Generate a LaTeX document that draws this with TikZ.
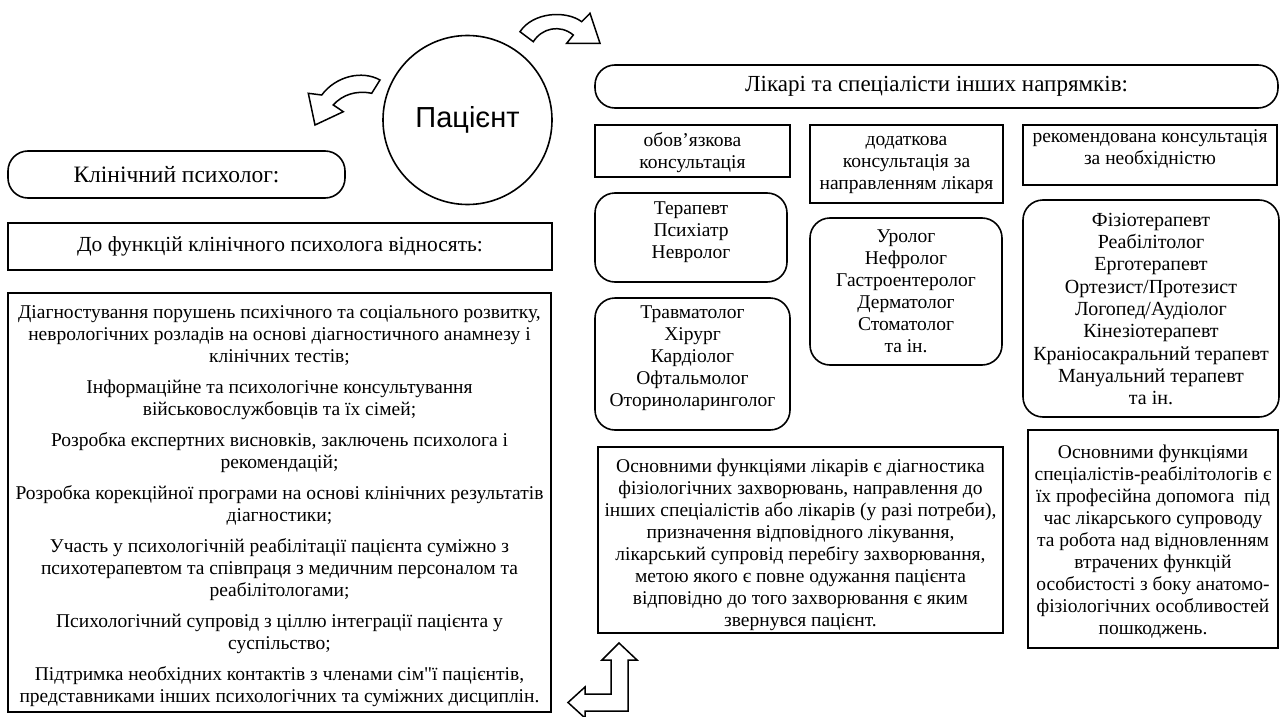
\documentclass[tikz,border=0pt]{standalone}
\usepackage{fontspec}
\setmainfont{Liberation Serif}
\newfontfamily\patsans{Liberation Sans}
\newfontfamily\qfont{Liberation Serif}
\begin{document}
\begin{tikzpicture}[x=1pt,y=-1pt,
  sqbox/.style={draw, line width=1.6pt, inner sep=0pt},
  rbox/.style={draw, line width=1.6pt, rounded corners=20pt, inner sep=0pt},
  body/.style={align=center, inner sep=0pt, font=\fontsize{19.5}{22}\selectfont},
  head/.style={align=center, inner sep=0pt, font=\fontsize{21.5}{24}\selectfont},
  bighead/.style={align=center, inner sep=0pt, font=\fontsize{23}{26}\selectfont},
  blockarrow/.style={draw, fill=white, line width=1.5pt, line join=miter}]
\fill[white] (0,0) rectangle (1282,717);
\useasboundingbox (0,0) rectangle (1282,717);

% patient
\node[circle, draw, line width=1.6pt, minimum size=169pt, inner sep=0pt,
      font=\patsans\fontsize{29}{32}\selectfont] (pat) at (467.5,120) {Пацієнт};

% left column
\node[rbox, minimum width=337pt, minimum height=47pt] (kp) at (176.5,174.5) {};
\node[bighead, font=\fontsize{23.5}{26}\selectfont] (kpT) at (kp.center) {Клінічний психолог:};
\node[sqbox, minimum width=544pt, minimum height=47pt] (fn) at (280,246.5) {};
\node[head] (fnT) at (fn.center) {До функцій клінічного психолога відносять:};
\node[sqbox, minimum width=543pt, minimum height=419pt] (cl) at (279.5,502.5) {};
\node[body] (clT) at ([yshift=-4pt]cl.center) {Діагностування порушень психічного та соціального розвитку,\\
неврологічних розладів на основі діагностичного анамнезу і\\
клінічних тестів;\\[9pt]
Інформаційне та психологічне консультування\\
військовослужбовців та їх сімей;\\[9pt]
Розробка експертних висновків, заключень психолога і\\
рекомендацій;\\[9pt]
Розробка корекційної програми на основі клінічних результатів\\
діагностики;\\[9pt]
Участь у психологічній реабілітації пацієнта суміжно з\\
психотерапевтом та співпраця з медичним персоналом та\\
реабілітологами;\\[9pt]
Психологічний супровід з ціллю інтеграції пацієнта у\\
суспільство;\\[9pt]
Підтримка необхідних контактів з членами сім{\qfont"}ї пацієнтів,\\
представниками інших психологічних та суміжних дисциплін.};

% right part
\node[rbox, minimum width=683pt, minimum height=43pt] (lik) at (936.5,86.5) {};
\node[bighead] (likT) at (lik.center) {Лікарі та спеціалісти інших напрямків:};

\node[sqbox, minimum width=195pt, minimum height=52pt] (ob) at (692.5,151) {};
\node[body] (obT) at ([yshift=-1.5pt]ob.center) {обов’язкова\\консультація};
\node[sqbox, minimum width=193pt, minimum height=78pt] (dod) at (906.5,164) {};
\node[body] (dodT) at ([yshift=-1pt]dod.center) {додаткова\\консультація за\\направленням лікаря};
\node[sqbox, minimum width=254pt, minimum height=60pt] (rek) at (1150,155) {};
\node[body] (rekT) at ([yshift=6pt]rek.center) {рекомендована консультація\\за необхідністю};

\node[rbox, minimum width=192pt, minimum height=89pt] (ter) at (691,237.5) {};
\node[body] (terT) at ([yshift=5.5pt]ter.center) {Терапевт\\Психіатр\\Невролог};
\node[rbox, minimum width=195pt, minimum height=132pt] (trav) at (692.5,364) {};
\node[body] (travT) at ([yshift=6pt]trav.center) {Травматолог\\Хірург\\Кардіолог\\Офтальмолог\\Оториноларинголог};
\node[rbox, minimum width=192pt, minimum height=147pt] (uro) at (906,291.5) {};
\node[body] (uroT) at ([yshift=0.5pt]uro.center) {Уролог\\Нефролог\\Гастроентеролог\\Дерматолог\\Стоматолог\\та ін.};
\node[rbox, minimum width=256pt, minimum height=217pt] (fiz) at (1151,308.5) {};
\node[body, font=\fontsize{20}{22.3}\selectfont] (fizT) at ([yshift=-0.5pt]fiz.center) {Фізіотерапевт\\Реабілітолог\\Ерготерапевт\\Ортезист/Протезист\\Логопед/Аудіолог\\Кінезіотерапевт\\Краніосакральний терапевт\\Мануальний терапевт\\та ін.};

\node[sqbox, minimum width=405pt, minimum height=186pt] (mf) at (800.5,540) {};
\node[body] (mfT) at ([yshift=-4.5pt]mf.center) {Основними функціями лікарів є діагностика\\
фізіологічних захворювань, направлення до\\
інших спеціалістів або лікарів (у разі потреби),\\
призначення відповідного лікування,\\
лікарський супровід перебігу захворювання,\\
метою якого є повне одужання пацієнта\\
відповідно до того захворювання є яким\\
звернувся пацієнт.};
\node[sqbox, minimum width=250pt, minimum height=218pt] (rf) at (1153,539) {};
\node[body] (rfT) at ([yshift=-3pt]rf.center) {Основними функціями\\
спеціалістів-реабілітологів є\\
їх професійна допомога~ під\\
час лікарського супроводу\\
та робота над відновленням\\
втрачених функцій\\
особистості з боку анатомо-\\
фізіологічних особливостей\\
пошкоджень.};

% curved arrow to the right group
\draw[blockarrow] (520,31.7) .. controls (533,12) and (566,10) .. (581.7,21.7)
  -- (590,13.3) -- (600,43.3) -- (566.7,43.3) -- (573.3,35)
  .. controls (560,24) and (542,28) .. (533.3,41.7) -- cycle;
% curved arrow to the left group
\draw[blockarrow] (380,80) .. controls (362,70) and (336,76) .. (321.7,95)
  -- (308.3,93.3) -- (315,125) -- (343.3,111.7) -- (333.3,105)
  .. controls (342,95) and (356,90) .. (371.7,93.3) -- cycle;
% L-shaped arrow
\draw[blockarrow] (619,643) -- (637,660) -- (628,660) -- (628,711) -- (585,711)
  -- (585,718) -- (568,702.5) -- (585,687) -- (585,694) -- (611,694)
  -- (611,660) -- (602,660) -- cycle;
\end{tikzpicture}
\end{document}
